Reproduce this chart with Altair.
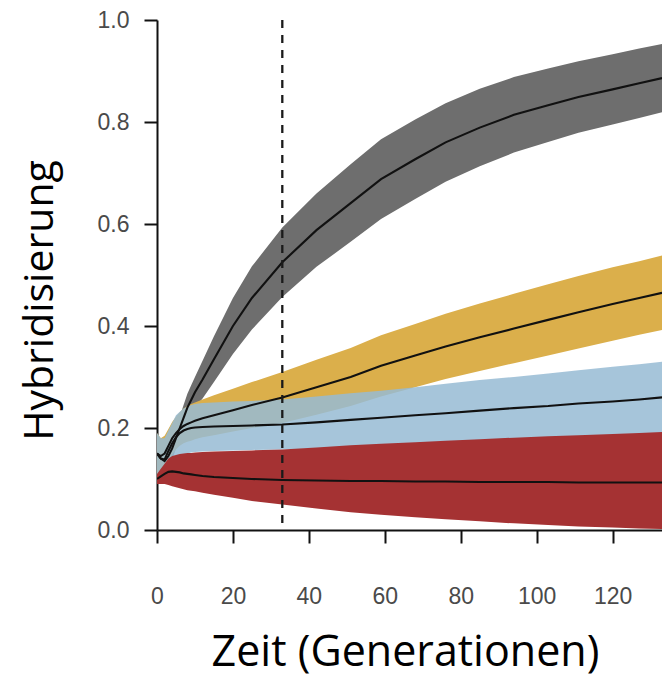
import altair as alt
import pandas as pd

# time points (generations)
t = [0, 1, 2, 3, 4, 5, 6, 7, 8, 9, 10, 12, 15, 20, 25, 33, 42, 51, 59, 68, 76, 85, 94, 103, 111, 120, 127, 133]

grey_mean = [.15, .14, .135, .145, .16, .18, .20, .22, .24, .255, .27, .295, .335, .40, .455, .525, .588, .641, .688, .727, .76, .789, .814, .833, .849, .864, .876, .886]
grey_lo = [.12, .115, .11, .12, .138, .16, .178, .195, .213, .226, .24, .258, .29, .345, .393, .457, .516, .565, .61, .649, .683, .713, .74, .761, .779, .795, .808, .819]
grey_hi = [.18, .165, .16, .17, .182, .20, .222, .245, .267, .284, .30, .332, .38, .455, .517, .593, .66, .717, .766, .805, .837, .865, .888, .905, .919, .933, .944, .953]

gold_mean = [.15, .145, .15, .165, .18, .19, .198, .204, .208, .211, .214, .219, .225, .235, .245, .26, .28, .30, .322, .342, .36, .378, .395, .412, .427, .443, .455, .465]
gold_lo = [.11, .11, .115, .132, .148, .158, .165, .17, .173, .175, .178, .182, .186, .193, .2, .21, .226, .243, .262, .28, .296, .312, .327, .342, .356, .371, .383, .392]
gold_hi = [.19, .18, .185, .198, .212, .222, .231, .238, .243, .247, .25, .256, .264, .277, .29, .31, .334, .357, .382, .404, .424, .444, .463, .482, .498, .515, .527, .538]

blue_mean = [.15, .14, .138, .155, .17, .182, .19, .195, .198, .2, .201, .202, .203, .204, .205, .207, .211, .216, .22, .225, .229, .234, .239, .243, .248, .252, .256, .26]
blue_lo = [.11, .105, .105, .12, .13, .14, .145, .148, .15, .152, .153, .154, .155, .156, .157, .158, .16, .163, .165, .168, .17, .173, .176, .178, .181, .183, .186, .188]
blue_hi = [.19, .18, .18, .195, .21, .225, .232, .238, .242, .245, .247, .249, .25, .252, .253, .256, .262, .268, .273, .28, .287, .294, .30, .307, .313, .32, .325, .33]

red_mean = [.10, .105, .11, .114, .115, .114, .113, .111, .11, .109, .108, .106, .104, .102, .10, .098, .097, .096, .096, .095, .095, .094, .094, .094, .093, .093, .093, .093]
red_lo = [.09, .09, .09, .088, .086, .084, .082, .08, .078, .077, .076, .073, .069, .063, .057, .05, .042, .035, .03, .025, .021, .017, .013, .01, .007, .005, .003, .002]
red_hi = [.11, .12, .13, .14, .145, .147, .149, .15, .151, .151, .152, .153, .154, .155, .156, .158, .162, .166, .169, .172, .175, .178, .181, .184, .186, .188, .19, .192]

marker_t = [33]

x_ticks = [0, 20, 40, 60, 80, 100, 120]
y_ticks = [0.0, 0.2, 0.4, 0.6, 0.8, 1.0]

series = [
    ("grey", grey_mean, grey_lo, grey_hi, "#6e6e6e", 1.0),
    ("gold", gold_mean, gold_lo, gold_hi, "#dbaf4b", 1.0),
    ("blue", blue_mean, blue_lo, blue_hi, "#97bbd4", 0.85),
    ("red", red_mean, red_lo, red_hi, "#a53233", 1.0),
]

x_scale = alt.Scale(domain=[0, 133], nice=False, zero=False)
y_scale = alt.Scale(domain=[0, 1], nice=False)

x_axis = alt.Axis(values=x_ticks, format="d", title="Zeit (Generationen)",
                  labelPadding=42, titleY=122, titleX=248, titleBaseline="middle",
                  titleFontSize=43)
y_axis = alt.Axis(values=y_ticks, format=".1f", title="Hybridisierung",
                  labelPadding=15, titleX=-117, titleY=280, titleAngle=270,
                  titleBaseline="middle", titleAlign="center", titleFontSize=41)

bands = []
lines = []
for name, m, lo, hi, col, op in series:
    df = pd.DataFrame({"t": t, "mean": m, "lo": lo, "hi": hi})
    base = alt.Chart(df)
    bands.append(
        base.mark_area(color=col, opacity=op, clip=True).encode(
            x=alt.X("t:Q", scale=x_scale, axis=x_axis),
            y=alt.Y("lo:Q", scale=y_scale, axis=y_axis),
            y2="hi:Q",
        )
    )
    lines.append(
        base.mark_line(color="#111111", strokeWidth=2.1, clip=True).encode(
            x=alt.X("t:Q", scale=x_scale),
            y=alt.Y("mean:Q", scale=y_scale),
        )
    )

vline = alt.Chart(pd.DataFrame({"t": marker_t})).mark_rule(
    color="#1a1a1a", strokeWidth=2.3, strokeDash=[8, 7]
).encode(x=alt.X("t:Q", scale=x_scale))

chart = alt.layer(*bands, *lines, vline).properties(
    width=505, height=510,
    autosize=alt.AutoSizeParams(type="none"),
    padding={"left": 157, "top": 20, "right": 0, "bottom": 148},
).configure_view(stroke=None).configure_axis(
    grid=False, labelFlush=False,
    domainColor="#111111", domainWidth=2,
    tickColor="#111111", tickWidth=2, tickSize=13,
    labelFont="Liberation Sans", labelFontSize=23, labelColor="#4a4a4a",
    titleFont="Open Sans", titleFontWeight="normal", titleColor="#000000",
)

chart.save("out.html", embed_options={"renderer": "svg", "actions": False})
